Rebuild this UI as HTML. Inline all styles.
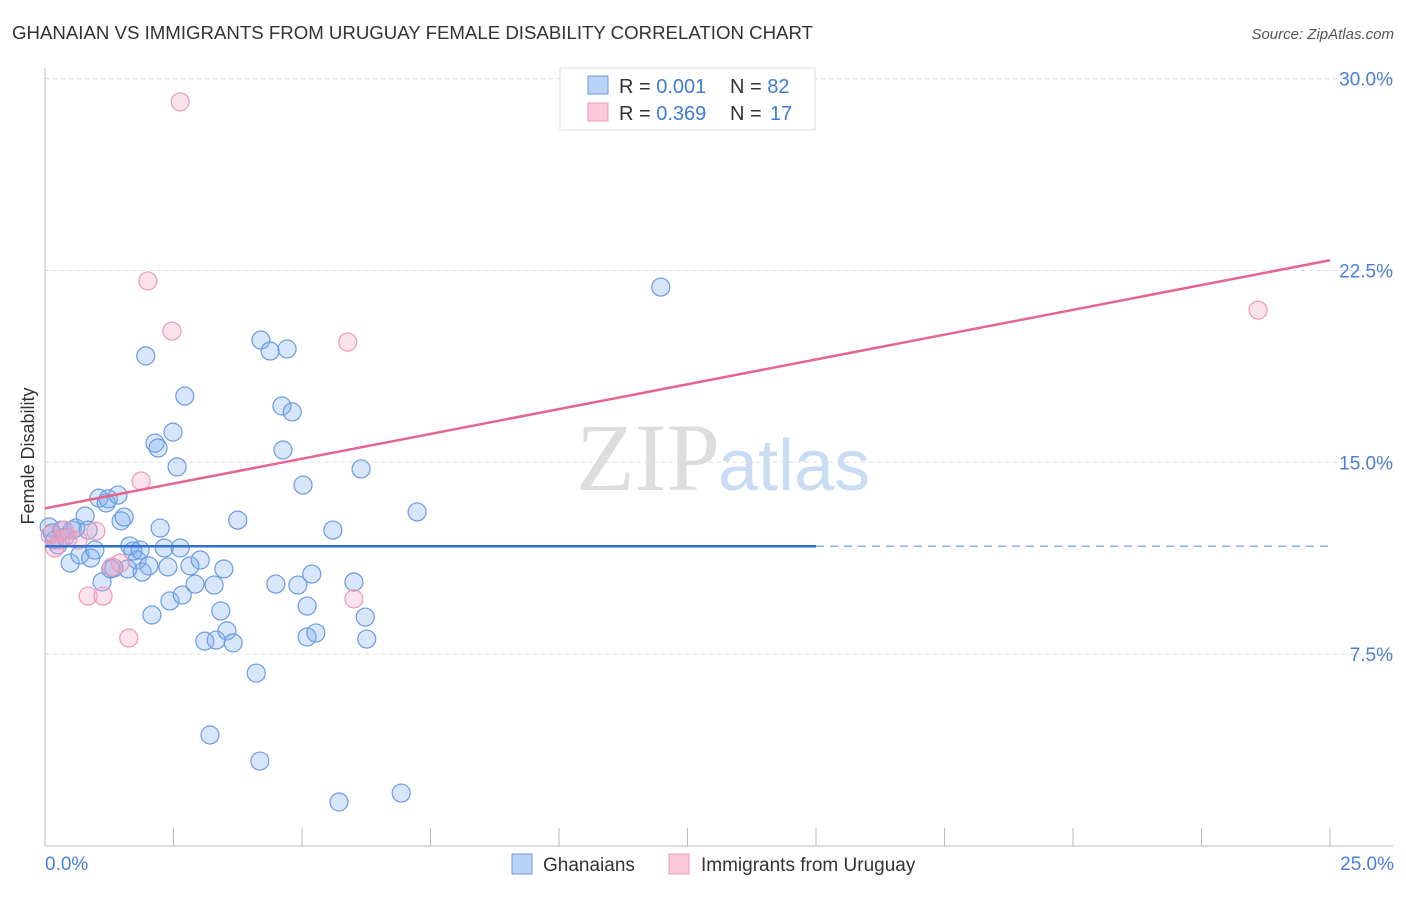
<!DOCTYPE html>
<html><head><meta charset="utf-8"><style>
body{margin:0;background:#fff;font-family:"Liberation Sans",sans-serif;}
</style></head><body>
<svg width="1406" height="892" xmlns="http://www.w3.org/2000/svg" font-family="Liberation Sans, sans-serif">
<text x="12" y="39" font-size="18.65" fill="#333">GHANAIAN VS IMMIGRANTS FROM URUGUAY FEMALE DISABILITY CORRELATION CHART</text>
<text x="1394" y="39" font-size="15" fill="#555" text-anchor="end" font-style="italic">Source: ZipAtlas.com</text>
<text x="720" y="490" font-size="96" fill="#ddd" text-anchor="end" font-family="Liberation Serif, serif">ZIP</text>
<text x="718" y="490" font-size="72" fill="#c9dcf3">atlas</text>
<g id="grid"></g><g id="axes"></g><g id="marks"></g>
<text transform="translate(34,456) rotate(-90)" font-size="18" fill="#333" text-anchor="middle">Female Disability</text>
<text x="45" y="870" font-size="19" fill="#4a7fd4">0.0%</text>
<text x="1394" y="870" font-size="19" fill="#4a7fd4" text-anchor="end">25.0%</text>
<g>
<rect x="560" y="68" width="255" height="62" fill="#fff" stroke="#ddd"/>
<rect x="588" y="76" width="20" height="18" fill="#b8d3f5" stroke="#6b9be0"/>
<rect x="588" y="103" width="20" height="18" fill="#fcc9da" stroke="#ec9ab6"/>
<text x="619" y="93" font-size="20" fill="#333">R = <tspan fill="#3f7bd8">0.001</tspan><tspan x="730">N = </tspan><tspan fill="#3f7bd8">82</tspan></text>
<text x="619" y="120" font-size="20" fill="#333">R = <tspan fill="#3f7bd8">0.369</tspan><tspan x="730">N = </tspan><tspan fill="#3f7bd8" x="770">17</tspan></text>
</g>
<g>
<rect x="512" y="854" width="20" height="20" fill="#b8d3f5" stroke="#6b9be0"/>
<text x="543" y="871" font-size="19" fill="#333">Ghanaians</text>
<rect x="669" y="854" width="20" height="20" fill="#fcc9da" stroke="#ec9ab6"/>
<text x="701" y="871" font-size="19" fill="#333">Immigrants from Uruguay</text>
</g>
</svg>
<script>
const yTicks=[7.5,15,22.5,30];
const xTicks=[0,2.5,5,7.5,10,12.5,15,17.5,20,22.5,25];
const blueX=[0.08,0.14,0.19,0.25,0.33,0.39,0.49,0.53,0.60,0.68,0.78,0.84,0.89,0.97,1.05,1.11,1.19,1.23,1.28,1.34,1.42,1.48,1.54,1.61,1.65,1.71,1.79,1.85,1.89,1.96,2.02,2.08,2.14,2.20,2.24,2.32,2.39,2.43,2.49,2.57,2.63,2.67,2.72,2.82,2.92,3.02,3.11,3.21,3.29,3.33,3.42,3.48,3.54,3.66,3.75,4.11,4.18,4.20,4.38,4.49,4.61,4.63,4.71,4.81,4.92,5.02,5.10,5.10,5.19,5.27,5.60,5.72,6.01,6.15,6.23,6.26,6.93,7.24,11.98];
const blueY=[12.47,12.24,11.96,11.77,12.35,12.08,11.06,12.35,12.43,11.38,12.90,12.35,11.26,11.57,13.60,10.32,13.41,13.57,10.83,10.87,13.72,12.71,12.86,10.83,11.73,11.53,11.18,11.57,10.71,19.16,10.95,9.03,15.75,15.56,12.43,11.65,10.91,9.58,16.18,14.82,11.65,9.81,17.59,10.95,10.24,11.18,8.01,4.34,10.20,8.05,9.19,10.83,8.41,7.94,12.74,6.76,3.32,19.78,19.35,10.24,17.20,15.48,19.43,16.97,10.20,14.11,9.38,8.17,10.63,8.33,12.35,1.72,10.32,14.74,8.95,8.09,2.07,13.06,21.85];
const pinkX=[0.10,0.19,0.29,0.37,0.45,0.64,0.84,0.99,1.13,1.30,1.46,1.63,1.87,2.00,2.47,2.63,5.89,6.01,23.60];
const pinkY=[12.16,11.65,11.96,12.35,12.04,11.96,9.77,12.31,9.77,10.91,11.06,8.13,14.27,22.09,20.13,29.09,19.70,9.66,20.95];
const blueTrend=[11.72,11.72];
const pinkTrend=[13.2,22.9];
const NS='http://www.w3.org/2000/svg';
const sx=v=>45+v*51.4, sy=v=>846-v*25.58;
function mk(t,a,p){const e=document.createElementNS(NS,t);for(const k in a)e.setAttribute(k,a[k]);p.appendChild(e);return e;}
const grid=document.getElementById('grid'),axes=document.getElementById('axes'),marks=document.getElementById('marks');
yTicks.forEach(v=>{
 const l=mk('line',{x1:45,x2:1393,y1:sy(v),y2:sy(v),stroke:'#ddd','stroke-dasharray':'4,4'},grid);
 
 
 const t=mk('text',{x:1393,y:sy(v)+7,'font-size':19,fill:'#4a7fd4','text-anchor':'end'},grid);
 t.textContent=v.toFixed(1)+'%';
 
 
});
const ya=mk('line',{x1:45,x2:45,y1:68,y2:846,stroke:'#bbb'},axes);


const xa=mk('line',{x1:45,x2:1393,y1:846,y2:846,stroke:'#bbb'},axes);


xTicks.forEach(v=>{
 const t=mk('line',{x1:sx(v),x2:sx(v),y1:828,y2:846,stroke:'#bbb'},axes);
 
 
});
blueX.forEach((x,i)=>{
 const c=mk('circle',{cx:sx(x),cy:sy(blueY[i]),r:9,fill:'rgba(130,178,238,0.32)',stroke:'#6b9be0','stroke-width':1.2},marks);
 
 
});
pinkX.forEach((x,i)=>{
 const c=mk('circle',{cx:sx(x),cy:sy(pinkY[i]),r:9,fill:'rgba(245,165,195,0.32)',stroke:'#ec9ab6','stroke-width':1.2},marks);
 
 
});
const b1=mk('line',{x1:sx(0),x2:sx(15),y1:sy(blueTrend[0]),y2:sy(blueTrend[0]+(blueTrend[1]-blueTrend[0])*0.6),stroke:'#2f6fd0','stroke-width':2.5},marks);


const b2=mk('line',{x1:sx(15),x2:sx(25),y1:sy(blueTrend[0]+(blueTrend[1]-blueTrend[0])*0.6),y2:sy(blueTrend[1]),stroke:'#8fb4e8','stroke-width':1.5,'stroke-dasharray':'8,6'},marks);


const p1=mk('line',{x1:sx(0),x2:sx(25),y1:sy(pinkTrend[0]),y2:sy(pinkTrend[1]),stroke:'#e5658f','stroke-width':2.5},marks);


</script>
</body></html>
